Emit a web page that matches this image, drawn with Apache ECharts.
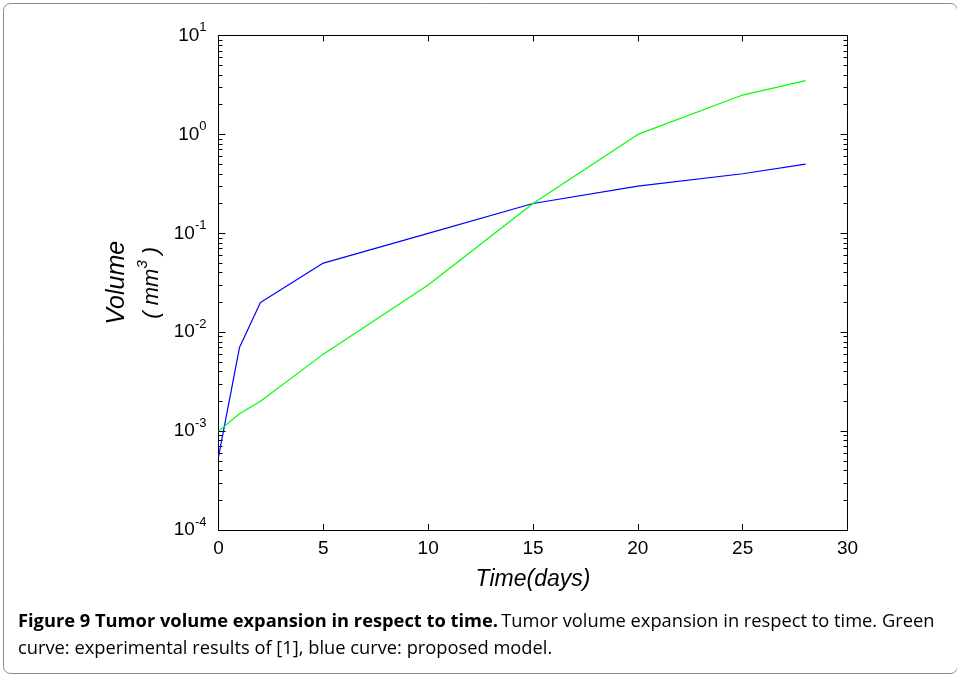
<!DOCTYPE html>
<html>
<head>
<meta charset="utf-8">
<script src="https://cdn.jsdelivr.net/npm/echarts@6.0.0/dist/echarts.min.js"></script>
<style>
	html, body { margin: 0; padding: 0; background: #fff; }
	#main { width: 957px; height: 674px; }
</style>
</head>
<body>
<div id="main"></div>
<script>
	// 数据
	const days = [0, 1, 2, 5, 10, 15, 20, 25, 28]
	const blueModel = [0.00055, 0.007, 0.02, 0.05, 0.1, 0.2, 0.3, 0.4, 0.5]
	const greenExperiment = [0.001, 0.0015, 0.002, 0.006, 0.03, 0.2, 1.0, 2.5, 3.5]
	const yExponents = [-4, -3, -2, -1, 0, 1]
	const xTicks = [0, 5, 10, 15, 20, 25, 30]

	// minor tick positions in log space (2..9 in each decade)
	const minorLog = []
	for (let e = yExponents[0]; e < yExponents[yExponents.length - 1]; e++) {
		for (let k = 2; k <= 9; k++) {
			minorLog.push(e + Math.log10(k))
		}
	}

	const myChart = echarts.init(document.getElementById('main'))

	const grid = { left: 218.5, top: 35.5, width: 629, height: 494.5 }
	const helv = 'Liberation Sans, Helvetica, Arial, sans-serif'

	const yMajorLabel = {
		show: true,
		margin: 12,
		formatter: v => '{b|10}{s|' + Math.round(Math.log10(v)) + '}',
		rich: {
			b: { fontSize: 19, fontFamily: helv, color: '#000' },
			s: { fontSize: 13, fontFamily: helv, color: '#000', padding: [0, 0, 16, 0] }
		}
	}

	const lineStyleAxis = { color: '#000', width: 1 }

	const option = {
		animation: false,
		backgroundColor: '#fff',
		grid: grid,
		xAxis: [{
			type: 'value',
			position: 'bottom',
			min: xTicks[0],
			max: xTicks[xTicks.length - 1],
			interval: 5,
			axisLine: { show: true, onZero: false, lineStyle: lineStyleAxis },
			axisTick: { show: true, inside: true, length: 6, lineStyle: lineStyleAxis },
			axisLabel: { show: true, fontSize: 19, fontFamily: helv, color: '#000', margin: 9 },
			splitLine: { show: false },
			name: 'Time(days)',
			nameLocation: 'middle',
			nameGap: 38,
			nameTextStyle: { fontSize: 23, fontStyle: 'italic', fontFamily: helv, color: '#000' }
		}, {
			type: 'value',
			position: 'top',
			min: xTicks[0],
			max: xTicks[xTicks.length - 1],
			interval: 5,
			axisLine: { show: true, onZero: false, lineStyle: lineStyleAxis },
			axisTick: { show: true, inside: true, length: 6, lineStyle: lineStyleAxis },
			axisLabel: { show: false },
			splitLine: { show: false }
		}],
		yAxis: [{
			// 主刻度 左
			type: 'log',
			logBase: 10,
			position: 'left',
			min: Math.pow(10, yExponents[0]),
			max: Math.pow(10, yExponents[yExponents.length - 1]),
			axisLine: { show: true, onZero: false, lineStyle: lineStyleAxis },
			axisTick: { show: true, inside: true, length: 7, lineStyle: lineStyleAxis },
			axisLabel: yMajorLabel,
			splitLine: { show: false },
			minorTick: { show: false },
			name: '{v|Volume}\n{u|( mm}{p|3}{u| )}',
			nameLocation: 'middle',
			nameRotate: 90,
			nameGap: 50,
			nameTextStyle: {
				rich: {
					v: { fontSize: 25, fontStyle: 'italic', fontFamily: helv, color: '#000', lineHeight: 34 },
					u: { fontSize: 22, fontStyle: 'italic', fontFamily: helv, color: '#000', lineHeight: 34 },
					p: { fontSize: 15, fontStyle: 'italic', fontFamily: helv, color: '#000', padding: [0, 0, 18, 0] }
				}
			}
		}, {
			// 主刻度 右
			type: 'log',
			logBase: 10,
			position: 'right',
			min: Math.pow(10, yExponents[0]),
			max: Math.pow(10, yExponents[yExponents.length - 1]),
			axisLine: { show: true, onZero: false, lineStyle: lineStyleAxis },
			axisTick: { show: true, inside: true, length: 7, lineStyle: lineStyleAxis },
			axisLabel: { show: false },
			splitLine: { show: false }
		}, {
			// 次刻度 左
			type: 'value',
			position: 'left',
			min: yExponents[0],
			max: yExponents[yExponents.length - 1],
			axisLine: { show: false, onZero: false },
			axisTick: { show: true, inside: true, length: 4, customValues: minorLog, lineStyle: lineStyleAxis },
			axisLabel: { show: false },
			splitLine: { show: false }
		}, {
			// 次刻度 右
			type: 'value',
			position: 'right',
			min: yExponents[0],
			max: yExponents[yExponents.length - 1],
			axisLine: { show: false, onZero: false },
			axisTick: { show: true, inside: true, length: 4, customValues: minorLog, lineStyle: lineStyleAxis },
			axisLabel: { show: false },
			splitLine: { show: false }
		}],
		series: [{
			name: 'proposed model',
			type: 'line',
			xAxisIndex: 0,
			yAxisIndex: 0,
			showSymbol: false,
			symbol: 'none',
			lineStyle: { color: '#0000ff', width: 1.2 },
			data: days.map((d, i) => [d, blueModel[i]])
		}, {
			name: 'experimental results',
			type: 'line',
			xAxisIndex: 0,
			yAxisIndex: 0,
			showSymbol: false,
			symbol: 'none',
			lineStyle: { color: '#00ff00', width: 1.2 },
			data: days.map((d, i) => [d, greenExperiment[i]])
		}],
		graphic: [{
			type: 'rect',
			left: 1,
			top: 1,
			shape: { width: 954, height: 670, r: 7 },
			style: { fill: 'none', stroke: '#8a8a8a', lineWidth: 1 },
			silent: true
		}, {
			type: 'text',
			left: 18,
			top: 613,
			style: {
				text: '{b|Figure 9 Tumor volume expansion in respect to time.} {n|Tumor volume expansion in respect to time. Green}\n{n|curve: experimental results of [1], blue curve: proposed model.}',
				rich: {
					b: { fontSize: 18.3, fontWeight: 'bold', fontFamily: 'Open Sans', color: '#111', lineHeight: 27 },
					n: { fontSize: 18.3, fontFamily: 'Open Sans', color: '#333', lineHeight: 27 }
				}
			}
		}]
	}

	myChart.setOption(option)
</script>
</body>
</html>
